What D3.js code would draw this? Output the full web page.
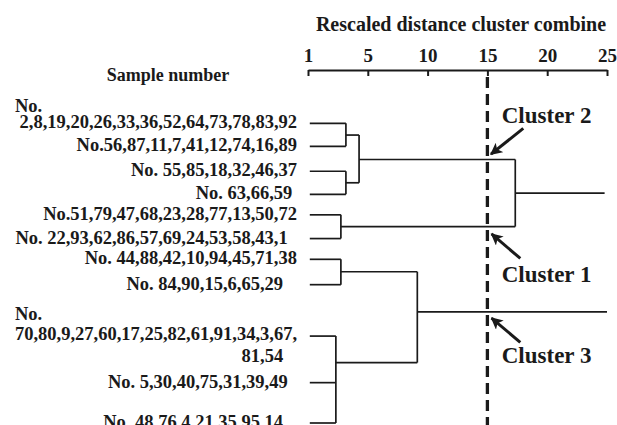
<!DOCTYPE html>
<html>
<head>
<meta charset="utf-8">
<script src="https://cdn.jsdelivr.net/npm/d3@7"></script>
<style>
  body { margin: 0; background: #fff; }
  svg text { font-family: "Liberation Serif", "Times New Roman", serif; font-weight: bold; fill: #1a1a1a; white-space: pre; }
</style>
</head>
<body>
<div id="chart"></div>
<script>
// chart values
var tickValues = [0, 5, 10, 15, 20, 25];
var tickLabels = ["1", "5", "10", "15", "20", "25"];

var leafLabels = [
  ["No.", "2,8,19,20,26,33,36,52,64,73,78,83,92"],
  ["No.56,87,11,7,41,12,74,16,89"],
  ["No. 55,85,18,32,46,37"],
  ["No. 63,66,59 "],
  ["No.51,79,47,68,23,28,77,13,50,72"],
  ["No. 22,93,62,86,57,69,24,53,58,43,1  "],
  ["No. 44,88,42,10,94,45,71,38"],
  ["No. 84,90,15,6,65,29   "],
  ["No.", "70,80,9,27,60,17,25,82,61,91,34,3,67,", "81,54   "],
  ["No. 5,30,40,75,31,39,49  "],
  ["No. 48,76,4,21,35,95,14   "]
];
var leafRows = [0, 1, 2.08, 3.08, 3.97, 5, 5.9, 7, 9.23, 11.25, 13];
var leafStart = 0.15;

// merge nodes: children are leaf indexes or node ids
var nodeIds = ["A", "B", "AB", "C", "ABC", "D", "E", "DE"];
var nodeChildren = [[0, 1], [2, 3], ["A", "B"], [4, 5], ["AB", "C"], [6, 7], [8, 9, 10], ["D", "E"]];
var nodeDist = [3.17, 3.17, 4.27, 2.75, 17.33, 2.75, 2.33, 9.14];
var nodeRow = [0.51, 2.58, 1.57, 4.48, 3.03, 6.44, 10.38, 8.18];
var tailNodes = ["ABC", "DE"];
var tailDist = [24.8, 25];

var cutDist = 15;
var clusterNames = ["Cluster 2", "Cluster 1", "Cluster 3"];
var clusterTextDist = [16.2, 16.2, 16.2];
var clusterTextRow = [0, 6.9, 10.4];
var arrowTip = [[15.3, 1.34], [15.35, 4.8], [15.35, 8.45]];
var arrowTail = [[18.0, 0.22], [17.75, 5.86], [17.75, 9.5]];

var w = 617, h = 425;
var axisY = 70;
var labelRight = 297;

var svg = d3.select("#chart").append("svg")
  .attr("width", w)
  .attr("height", h);

var x = d3.scaleLinear().domain([0, 25]).range([308, 607]);
var y = d3.scaleLinear().domain([0, 13]).range([123.3, 423]);

var ink = "#1a1a1a";

// titles
svg.append("text")
  .attr("x", 461).attr("y", 31)
  .attr("text-anchor", "middle")
  .style("font-size", "20px")
  .text("Rescaled distance cluster combine");

svg.append("text")
  .attr("x", 168).attr("y", 81)
  .attr("text-anchor", "middle")
  .style("font-size", "18px")
  .text("Sample number");

// top axis
var axis = svg.append("g")
  .attr("transform", "translate(0," + axisY + ")")
  .call(d3.axisTop(x).tickValues(tickValues).tickSize(-6).tickSizeOuter(0)
    .tickFormat(function(d, i) { return tickLabels[i]; }));
axis.select(".domain").attr("stroke", ink).attr("stroke-width", 2);
axis.selectAll(".tick line").attr("stroke", ink).attr("stroke-width", 2);
axis.selectAll(".tick text")
  .attr("y", -8)
  .attr("dy", 0)
  .style("font-size", "19px")
  .style("font-family", "\"Liberation Serif\", \"Times New Roman\", serif")
  .attr("fill", ink);

// cut-off line
svg.append("line")
  .attr("x1", x(cutDist)).attr("x2", x(cutDist))
  .attr("y1", axisY + 7).attr("y2", h)
  .attr("stroke", ink)
  .attr("stroke-width", 3.3)
  .attr("stroke-dasharray", "11,6");

// positions of leaves and nodes
var pos = {};
leafRows.forEach(function(r, i) { pos[i] = { d: leafStart, r: r }; });
nodeIds.forEach(function(id, i) { pos[id] = { d: nodeDist[i], r: nodeRow[i] }; });

var tree = svg.append("g")
  .attr("fill", "none")
  .attr("stroke", ink)
  .attr("stroke-width", 1.7);

nodeIds.forEach(function(id, i) {
  var kids = nodeChildren[i];
  var rows = kids.map(function(k) { return pos[k].r; });
  // horizontal from each child to merge level
  kids.forEach(function(k) {
    tree.append("line")
      .attr("x1", x(pos[k].d)).attr("x2", x(nodeDist[i]))
      .attr("y1", y(pos[k].r)).attr("y2", y(pos[k].r));
  });
  // vertical joining children
  tree.append("line")
    .attr("x1", x(nodeDist[i])).attr("x2", x(nodeDist[i]))
    .attr("y1", y(d3.min(rows))).attr("y2", y(d3.max(rows)));
});

tailNodes.forEach(function(id, i) {
  tree.append("line")
    .attr("x1", x(pos[id].d)).attr("x2", x(tailDist[i]))
    .attr("y1", y(pos[id].r)).attr("y2", y(pos[id].r));
});

// leaf labels
leafLabels.forEach(function(lines, i) {
  var ly = y(leafRows[i]);
  var offs;
  if (lines.length == 1) offs = [5];
  else if (lines.length == 2) offs = [-11, 5];
  else offs = [-16, 4, 26];
  lines.forEach(function(t, j) {
    var isNo = lines.length > 1 && j == 0;
    svg.append("text")
      .attr("x", isNo ? 15 : labelRight)
      .attr("y", ly + offs[j])
      .attr("text-anchor", isNo ? "start" : "end")
      .style("font-size", "18.5px")
      .text(t);
  });
});

// cluster annotations
svg.append("defs").append("marker")
  .attr("id", "head")
  .attr("viewBox", "0 0 10 10")
  .attr("refX", 9).attr("refY", 5)
  .attr("markerWidth", 4).attr("markerHeight", 4)
  .attr("orient", "auto")
  .append("path")
  .attr("d", "M0,0 L10,5 L0,10 L2.5,5 z")
  .attr("fill", ink);

clusterNames.forEach(function(name, i) {
  svg.append("line")
    .attr("x1", x(arrowTail[i][0])).attr("y1", y(arrowTail[i][1]))
    .attr("x2", x(arrowTip[i][0])).attr("y2", y(arrowTip[i][1]))
    .attr("stroke", ink)
    .attr("stroke-width", 3)
    .attr("marker-end", "url(#head)");
  svg.append("text")
    .attr("x", x(clusterTextDist[i]))
    .attr("y", y(clusterTextRow[i]))
    .style("font-size", "23px")
    .text(name);
});
</script>
</body>
</html>
